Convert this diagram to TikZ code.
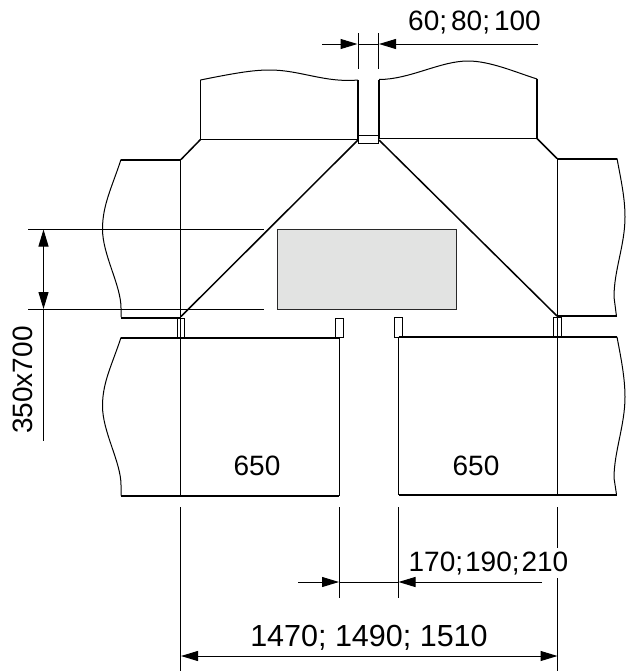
\documentclass[tikz,border=0pt]{standalone}
\usepackage{fontspec}
\setmainfont{Liberation Sans}
\usetikzlibrary{arrows.meta}
\definecolor{panelgray}{RGB}{226,227,226}
\definecolor{linegray}{RGB}{40,40,40}
\tikzset{
  thinline/.style={black,line width=1pt},
  wallline/.style={black,line width=1.5pt},
  heavyline/.style={black,line width=2pt},
  wavyline/.style={black,line width=1pt},
  dimarrow/.style={black,line width=1pt,{Triangle[length=17pt,width=10pt]}-{Triangle[length=17pt,width=10pt]}},
  dimlabel/.style={font=\fontsize{28}{28}\selectfont,inner sep=0pt,text=black}
}

\begin{document}
\begin{tikzpicture}[x=1pt,y=-1pt]
   \useasboundingbox (0,0) rectangle (626,672);
   % grey panel
   \draw[fill=panelgray,draw=linegray,line width=1pt] (277.5,229.5) rectangle (456.5,309);
   % upper blocks
   \draw[wavyline] (200.5,80) .. controls (240,72) and (255,70) .. (270,70) .. controls (300,70) and (325,83) .. (358,80);
   \draw[wavyline] (379,79.5) .. controls (410,79.5) and (440,61) .. (468,61) .. controls (490,61) and (515,72) .. (537,79);
   \draw[wallline] (200.5,80) -- (200.5,139.5);
   \draw[wallline] (358,80) -- (358,139.5);
   \draw[heavyline] (379,79.5) -- (379,138.5);
   \draw[wallline] (537,79) -- (537,138.5);
   \draw[thinline] (200.5,139.5) -- (358,139.5);
   \draw[thinline] (379,138.5) -- (537,138.5);
   \draw[wallline] (200.5,139.5) -- (181,159.5);
   \draw[wallline] (537,138.5) -- (557,158.5);
   % small plates
   \draw[thinline,fill=white] (358.5,135.5) rectangle (378.5,143.5);
   \draw[thinline,fill=white] (177,318) rectangle (184.5,337.5);
   \draw[thinline,fill=white] (335,318) rectangle (343,337.5);
   \draw[thinline,fill=white] (394,317) rectangle (402,337);
   \draw[thinline,fill=white] (553,317) rectangle (561,337);
   % left and right side blocks
   \draw[heavyline] (121,160) -- (181,160);
   \draw[heavyline] (557,159) -- (617,159);
   \draw[heavyline] (121,317.5) -- (181,317.5);
   \draw[heavyline] (557,316) -- (617,316);
   \draw[wavyline] (121,159.5) .. controls (112,187) and (102.5,205) .. (102.5,229) .. controls (102.5,255) and (121,285) .. (121,308) -- (121,317);
   \draw[wavyline] (121,337.5) .. controls (112,365) and (102.5,382) .. (102.5,406) .. controls (102.5,432) and (121,462) .. (121,485) -- (121,495.5);
   \draw[wavyline] (617,158.5) .. controls (621,180) and (625,198) .. (625,217) .. controls (625,245) and (614,270) .. (614,297) -- (616.5,316.5);
   \draw[wavyline] (617,337) .. controls (621,358) and (625,378) .. (625,397) .. controls (625,425) and (614,452) .. (614,478) -- (616.5,494.5);
   % lower blocks
   \draw[heavyline] (121,338) -- (339,338);
   \draw[heavyline] (398.5,337) -- (617,337);
   \draw[heavyline] (121,496) -- (339,496);
   \draw[heavyline] (398.5,495) -- (617,495);
   \draw[thinline] (339,337.5) -- (339,496);
   \draw[thinline] (398.5,337) -- (398.5,495);
   % diagonals
   \draw[wallline] (358,140) -- (181,316.5);
   \draw[wallline] (379,140) -- (557,316);
   % axes
   \draw[thinline] (180.5,159.5) -- (180.5,496);
   \draw[thinline] (557,158.5) -- (557,495);
   % height dimension
   \draw[thinline] (28,229.5) -- (264,229.5);
   \draw[thinline] (28,309) -- (264,309);
   \draw[dimarrow] (43.5,229.5) -- (43.5,309);
   \draw[thinline] (43.5,309) -- (43.5,441);
   \node[dimlabel,rotate=90] (sizelabel) at (23,380) {350x700};
   % top dimension
   \draw[thinline] (358,33) -- (358,68.5);
   \draw[thinline] (378.5,33) -- (378.5,68.5);
   \draw[thinline,-{Triangle[length=17pt,width=10pt]}] (322,44) -- (357.5,44);
   \draw[thinline,-{Triangle[length=17pt,width=10pt]}] (538,44) -- (379,44);
   \draw[thinline] (358,44) -- (378.5,44);
   \node[dimlabel] (toplabel) at (474.5,23) {60;\hspace{4pt}80;\hspace{4pt}100};
   % bottom dimensions
   \draw[thinline] (180.5,507) -- (180.5,671);
   \draw[thinline] (339,507) -- (339,598);
   \draw[thinline] (398.5,507) -- (398.5,598);
   \draw[thinline] (557.5,507) -- (557.5,548);
   \draw[thinline] (557.5,578) -- (557.5,671);
   \draw[thinline,-{Triangle[length=17pt,width=10pt]}] (298,582) -- (339,582);
   \draw[thinline,-{Triangle[length=17pt,width=10pt]}] (542,582) -- (398.5,582);
   \draw[thinline] (339,582) -- (398.5,582);
   \node[dimlabel] (gaplabel) at (488.5,564) {170;\hspace{2pt}190;\hspace{2pt}210};
   \draw[dimarrow] (181,656) -- (557.5,656);
   \node[dimlabel,font=\fontsize{30.5}{30.5}\selectfont] (widthlabel) at (369,637.5) {1470; 1490; 1510};
   % depth labels
   \node[dimlabel] (leftdepth) at (257,466) {650};
   \node[dimlabel] (rightdepth) at (476,466) {650};
\end{tikzpicture}
\end{document}
